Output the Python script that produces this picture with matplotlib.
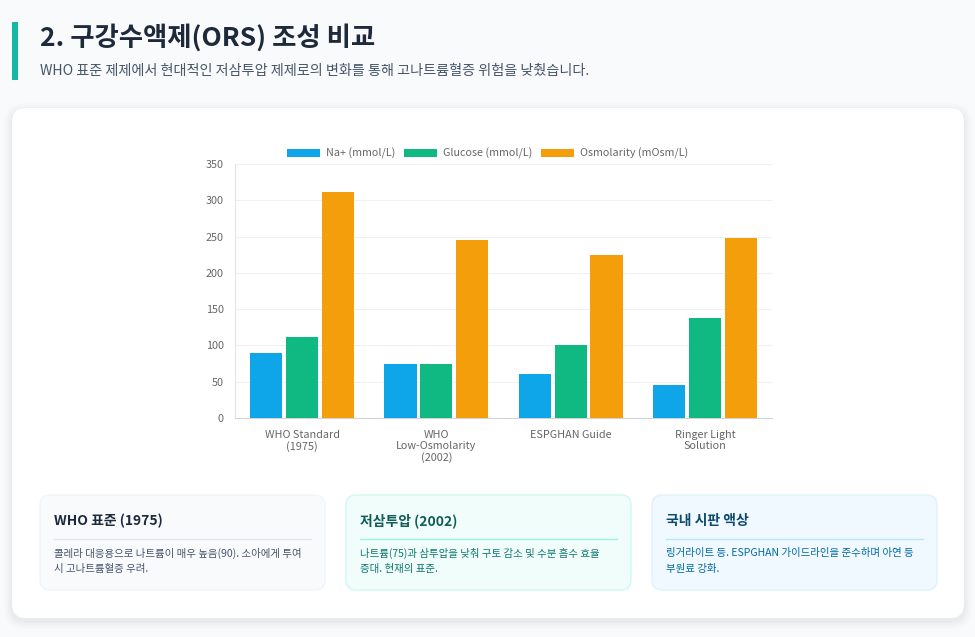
import numpy as np
import matplotlib
matplotlib.use("Agg")
import matplotlib.pyplot as plt
from matplotlib.patches import FancyBboxPatch, Rectangle

plt.rcParams["font.family"] = ["Noto Sans CJK KR", "DejaVu Sans"]

# data
categories = ["WHO Standard\n(1975)", "WHO\nLow-Osmolarity\n(2002)", "ESPGHAN Guide", "Ringer Light\nSolution"]
series_names = ["Na+ (mmol/L)", "Glucose (mmol/L)", "Osmolarity (mOsm/L)"]
sodium = [90, 75, 60, 45]
glucose = [111, 75, 100, 138]
osmolarity = [311, 245, 225, 248]
colors = ["#0ea5e9", "#10b981", "#f59e0b"]

W, H = 975, 637
fig = plt.figure(figsize=(W / 100, H / 100), dpi=100)
fig.patch.set_facecolor("#f8fafc")

# pixel canvas for the page layout
bg = fig.add_axes([0, 0, 1, 1])
bg.set_xlim(0, W)
bg.set_ylim(H, 0)
bg.axis("off")
bg.set_zorder(0)


def rbox(ax, x0, y0, x1, y1, r, fc, ec="none", lw=0, alpha=1.0, z=1):
    p = FancyBboxPatch(
        (x0 + r, y0 + r), (x1 - x0) - 2 * r, (y1 - y0) - 2 * r,
        boxstyle=f"round,pad={r},rounding_size={r}",
        fc=fc, ec=ec, lw=lw, alpha=alpha, zorder=z,
    )
    ax.add_patch(p)


# header
bg.add_patch(Rectangle((12, 22), 6, 58, fc="#14b8a6", ec="none"))
bg.text(40, 38, "2. 구강수액제(ORS) 조성 비교", fontsize=19, fontweight="bold",
        color="#1e293b", va="center", ha="left")
bg.text(40, 71, "WHO 표준 제제에서 현대적인 저삼투압 제제로의 변화를 통해 고나트륨혈증 위험을 낮췄습니다.",
        fontsize=10.2, color="#475569", va="center", ha="left")

# main card with soft shadow
for i, a in enumerate([0.010, 0.013, 0.016, 0.020]):
    s = 8 - 2 * i
    rbox(bg, 12 - s, 108 - s + 3, 964 + s, 618 + s + 3, 14 + s, "#0f172a", alpha=a, z=1)
rbox(bg, 12, 108, 964, 618, 14, "white", z=2)

# info cards
cards = [
    (40, 325, "#f8fafc", "#f1f5f9", "#e2e8f0", "#1e293b", "#475569",
     "WHO 표준 (1975)", "콜레라 대응용으로 나트륨이 매우 높음(90). 소아에게 투여\n시 고나트륨혈증 우려."),
    (346, 631, "#f0fdfa", "#ccfbf1", "#99f6e4", "#115e59", "#0f766e",
     "저삼투압 (2002)", "나트륨(75)과 삼투압을 낮춰 구토 감소 및 수분 흡수 효율\n증대. 현재의 표준."),
    (652, 937, "#f0f9ff", "#e0f2fe", "#bae6fd", "#0c4a6e", "#0369a1",
     "국내 시판 액상", "링거라이트 등. ESPGHAN 가이드라인을 준수하며 아연 등\n부원료 강화."),
]
for x0, x1, fc, ec, lc, tc, bc, title, body in cards:
    rbox(bg, x0, 495, x1, 590, 10, fc, ec=ec, lw=1, z=3)
    bg.text(x0 + 14, 521, title, fontsize=10, fontweight="bold", color=tc,
            va="center", ha="left", zorder=4)
    bg.plot([x0 + 14, x1 - 14], [538.5, 538.5], color=lc, lw=1, zorder=4)
    bg.text(x0 + 14, 561, body, fontsize=7.55, color=bc, va="center", ha="left",
            linespacing=1.7, zorder=4)

# chart
ax = fig.add_axes([235 / W, 1 - 418 / H, (772 - 235) / W, (418 - 164) / H])
ax.set_zorder(5)
ax.patch.set_alpha(0)

x = np.arange(len(categories))
slot = 0.8 / 3
bw = slot * 0.9
for k, (vals, name, c) in enumerate(zip([sodium, glucose, osmolarity], series_names, colors)):
    ax.bar(x + (k - 1) * slot, vals, width=bw, color=c, label=name, zorder=3)

ax.set_xlim(-0.5, len(categories) - 0.5)
ax.set_ylim(0, 350)
ax.set_yticks(range(0, 351, 50))
ax.set_xticks(x)
ax.set_xticklabels(categories, fontsize=7.8, color="#666666", linespacing=1.1, va="top")
ax.tick_params(axis="y", labelsize=7.8, colors="#666666", length=0, pad=8)
ax.tick_params(axis="x", length=0, pad=9)
ax.grid(axis="y", color="#f1f1f1", lw=0.8, zorder=0)
for side in ["top", "right"]:
    ax.spines[side].set_visible(False)
ax.spines["left"].set_color("#e5e5e5")
ax.spines["bottom"].set_color("#d4d4d4")

ax.legend(
    loc="lower center", bbox_to_anchor=(0.47, 1.0), ncol=3, frameon=False,
    fontsize=7.8, handlelength=3.1, handleheight=0.85, handletextpad=0.5,
    columnspacing=0.8, labelcolor="#666666", borderaxespad=0.05,
)

fig.savefig("out.png", dpi=100, facecolor=fig.get_facecolor())
